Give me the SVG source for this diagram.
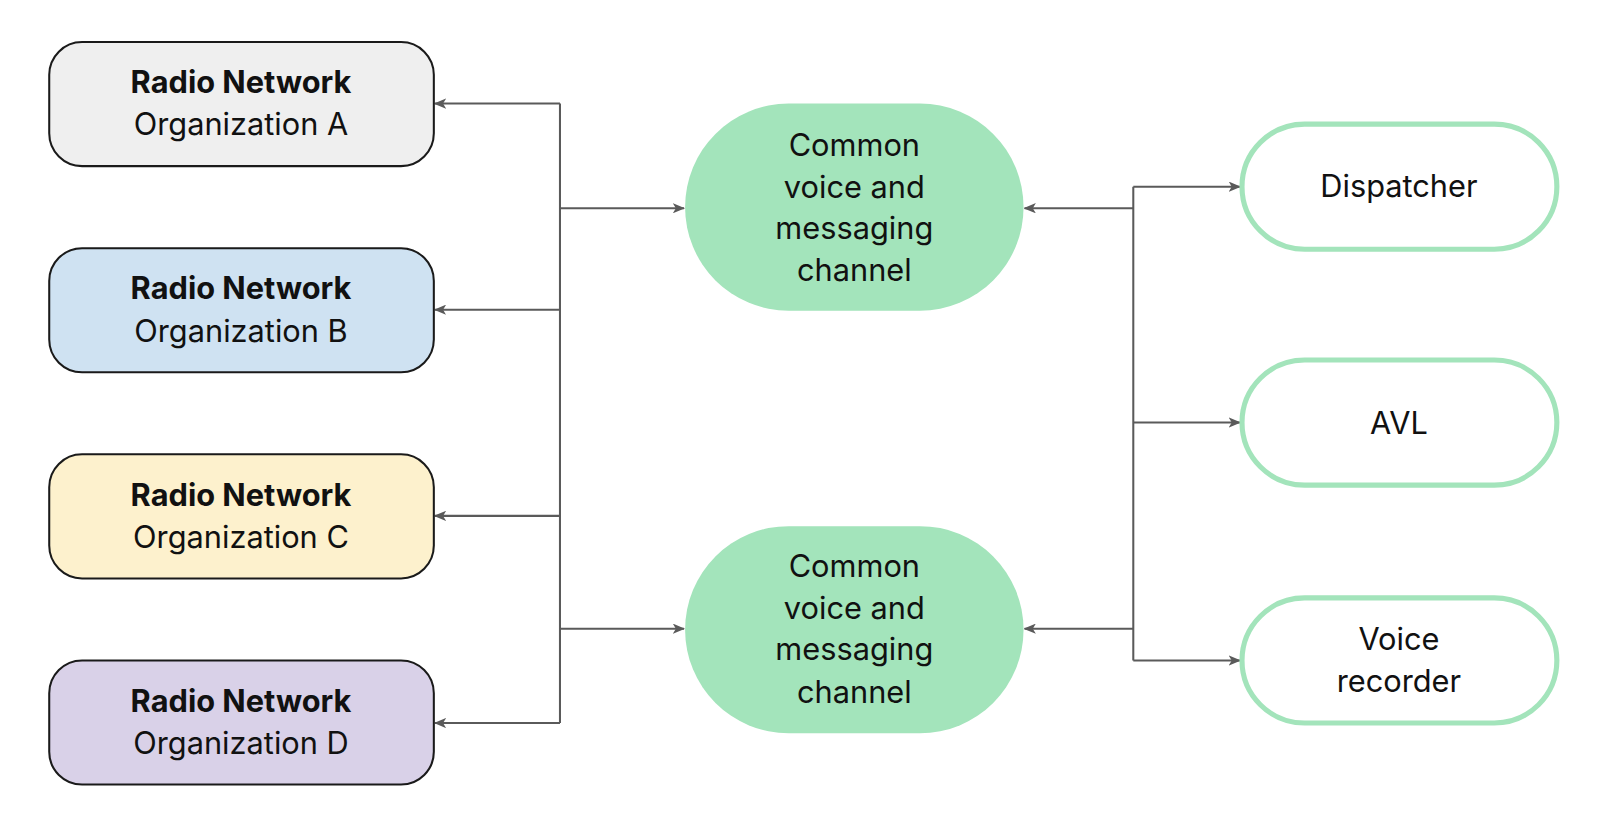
<svg xmlns="http://www.w3.org/2000/svg" width="1600" height="822" viewBox="0 0 1600 822">
<style>
.org{stroke:#1a1a1a;stroke-width:2}
.ch{fill:#a3e4bb}
.out{fill:#fff;stroke:#a3e4bb;stroke-width:5}
text{font-family:Inter,"Noto Sans",sans-serif;font-size:30px;fill:#111;text-anchor:middle}
.b{font-weight:bold}
.c{fill:none;stroke:#5a5a5a;stroke-width:2}
</style>
<defs><marker id="a" viewBox="0 0 12 10" refX="11" refY="5" markerWidth="12" markerHeight="10" markerUnits="userSpaceOnUse" orient="auto"><path d="M0,0 L12,5 L0,10 L3,5 Z" fill="#5a5a5a"/></marker></defs>
<rect width="1600" height="822" fill="#fff"/>
<g transform="scale(1.0256)">
<g id="connectors">
<path class="c" d="M546,101 V705"/>
<path class="c" d="M546,101 H424" marker-end="url(#a)"/>
<path class="c" d="M546,302 H424" marker-end="url(#a)"/>
<path class="c" d="M546,503 H424" marker-end="url(#a)"/>
<path class="c" d="M546,705 H424" marker-end="url(#a)"/>
<path class="c" d="M546,203 H667" marker-end="url(#a)"/>
<path class="c" d="M546,613 H667" marker-end="url(#a)"/>
<path class="c" d="M1105,182 V644"/>
<path class="c" d="M1105,203 H999" marker-end="url(#a)"/>
<path class="c" d="M1105,613 H999" marker-end="url(#a)"/>
<path class="c" d="M1105,182 H1209" marker-end="url(#a)"/>
<path class="c" d="M1105,412 H1209" marker-end="url(#a)"/>
<path class="c" d="M1105,644 H1209" marker-end="url(#a)"/>
</g>
<g id="orgA"><rect class="org" x="48" y="41" width="375" height="121" rx="32" fill="#efefef"/><text x="235" y="91" class="b">Radio Network</text><text x="235" y="132">Organization A</text></g>
<g id="orgB"><rect class="org" x="48" y="242" width="375" height="121" rx="32" fill="#cfe2f2"/><text x="235" y="292" class="b">Radio Network</text><text x="235" y="333">Organization B</text></g>
<g id="orgC"><rect class="org" x="48" y="443" width="375" height="121" rx="32" fill="#fdf1cd"/><text x="235" y="493" class="b">Radio Network</text><text x="235" y="534">Organization C</text></g>
<g id="orgD"><rect class="org" x="48" y="644" width="375" height="121" rx="32" fill="#d9d1e8"/><text x="235" y="694" class="b">Radio Network</text><text x="235" y="735">Organization D</text></g>
<g id="ch1"><rect class="ch" x="668" y="101" width="330" height="202" rx="101"/><text x="833" y="152">Common</text><text x="833" y="193">voice and</text><text x="833" y="233">messaging</text><text x="833" y="274">channel</text></g>
<g id="ch2"><rect class="ch" x="668" y="513" width="330" height="202" rx="101"/><text x="833" y="563">Common</text><text x="833" y="604">voice and</text><text x="833" y="644">messaging</text><text x="833" y="685">channel</text></g>
<g id="disp"><rect class="out" x="1211" y="121" width="307" height="122" rx="61"/><text x="1364" y="192">Dispatcher</text></g>
<g id="avl"><rect class="out" x="1211" y="351" width="307" height="122" rx="61"/><text x="1364" y="423">AVL</text></g>
<g id="rec"><rect class="out" x="1211" y="583" width="307" height="122" rx="61"/><text x="1364" y="634">Voice</text><text x="1364" y="675">recorder</text></g>
</g>
</svg>
